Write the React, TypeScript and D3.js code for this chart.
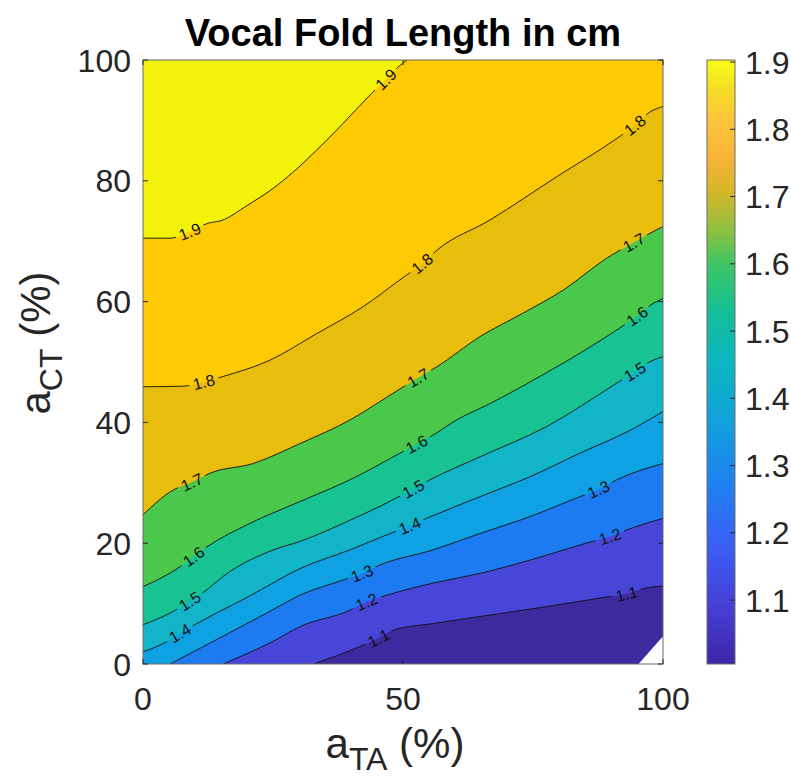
import React, { useEffect, useRef } from 'react';
import * as d3 from 'd3';

type Pt = [number, number];

const levels = [1.0, 1.1, 1.2, 1.3, 1.4, 1.5, 1.6, 1.7, 1.8, 1.9];

// fill of the band that starts at each level
const bandColors = ['#3d2a9e', '#4846d8', '#1d7bf2', '#0ea2e2', '#12b5c7', '#17c393', '#4ac84b', '#e8bd0c', '#fdca04', '#f3f20a'];

// contour lines as [aTA, aCT] points
const line10: Pt[] = [[95.3, 0], [100, 4.6]];
const line11: Pt[] = [[32.8, 0], [41.7, 2.9], [45.3, 4.3], [48.1, 5.6], [55.8, 6.7], [66.7, 8.1], [77.6, 9.5], [89.2, 11.1], [93, 11.6], [96.2, 12.5], [100, 12.9]];
const line12: Pt[] = [[15.4, 0], [25.1, 3.8], [30.2, 6.2], [39.8, 8.9], [43, 10.3], [46.9, 11.4], [55.8, 13.4], [64.8, 15.0], [74.4, 17.2], [86, 20.2], [89.8, 21.1], [93, 22.2], [100, 24.1]];
const line13: Pt[] = [[5.2, 0], [15.4, 4.6], [25, 9.0], [30.2, 11.4], [38.5, 13.9], [42.1, 15.0], [45.6, 16.4], [55.8, 18.9], [64.8, 21.6], [74.4, 24.4], [84, 27.7], [87.6, 28.9], [91.1, 30.5], [100, 33.2]];
const line14: Pt[] = [[0, 2.0], [5.2, 4.0], [7.1, 5.1], [11, 7.0], [20.6, 11.3], [30.2, 15.8], [39.8, 18.9], [47.5, 21.6], [51.3, 22.9], [54.5, 24.1], [64.8, 27.7], [74.4, 31.0], [84, 34.9], [93.7, 38.7], [100, 41.8]];
const line15: Pt[] = [[0, 6.5], [5.8, 8.7], [9.0, 10.4], [12.3, 12.3], [15.4, 14.5], [25.1, 18.9], [30.2, 20.3], [39.8, 23.8], [48.1, 27.2], [52, 29.0], [55.2, 30.5], [64.8, 34.3], [77.6, 39.3], [91.1, 46.5], [94.6, 48.4], [98.1, 50.3], [100, 50.9]];
const line16: Pt[] = [[0, 12.8], [7.1, 16.1], [9.7, 17.8], [12.3, 19.4], [20.6, 23.3], [30.2, 26.9], [39.8, 30.5], [49.4, 34.9], [52.6, 36.4], [55.8, 37.9], [60.3, 40.4], [66.7, 43.1], [76.3, 47.6], [86, 52.5], [91.1, 55.3], [95, 57.6], [98.1, 59.7], [100, 60.5]];
const line17: Pt[] = [[0, 24.7], [5.8, 28.8], [9.4, 30.1], [12.9, 31.6], [21.2, 33.2], [30.2, 36.5], [39.8, 40.4], [47.5, 44.5], [52.9, 47.4], [56.5, 49.2], [64.8, 54.2], [73.1, 58.1], [80.8, 61.9], [89.2, 67.2], [94.4, 69.8], [98.8, 71.9], [100, 72.4]];
const line18: Pt[] = [[0, 45.9], [7.8, 46.0], [11.7, 46.7], [15.4, 47.6], [24.4, 50.3], [33.4, 54.7], [42.4, 59.2], [49.4, 63.6], [53.7, 66.3], [56.5, 68.5], [66.7, 73.5], [79.6, 80.7], [91.1, 87.0], [94.6, 89.2], [97.5, 91.4], [100, 92.3]];
const line19: Pt[] = [[0, 70.5], [5.2, 70.5], [9.0, 71.6], [12.6, 73.0], [15, 73.4], [20, 75.9], [25.1, 78.8], [30, 82.3], [33.4, 85.1], [36, 87.3], [40, 90.9], [44, 94.5], [46.7, 96.8], [49, 98.8], [50.8, 100]];
const contourLines = [line10, line11, line12, line13, line14, line15, line16, line17, line18, line19];

// inline labels: [level, aTA where the label sits]
const labelSpots: Pt[] = [
  [1.9, 9.0], [1.9, 46.7],
  [1.8, 11.7], [1.8, 53.7], [1.8, 94.6],
  [1.7, 9.4], [1.7, 52.9], [1.7, 94.4],
  [1.6, 9.7], [1.6, 52.6], [1.6, 95.0],
  [1.5, 9.0], [1.5, 52.0], [1.5, 94.6],
  [1.4, 7.1], [1.4, 51.3],
  [1.3, 42.1], [1.3, 87.6],
  [1.2, 43.0], [1.2, 89.8],
  [1.1, 45.3], [1.1, 93.0],
];

const xTicks = [0, 50, 100];
const yTicks = [0, 20, 40, 60, 80, 100];
const cbTicks = [1.1, 1.2, 1.3, 1.4, 1.5, 1.6, 1.7, 1.8, 1.9];
const colorLimits: Pt = [1.005, 1.903];

// parula-like colormap stops for the colorbar
const parulaStops: [number, string][] = [
  [0.0, '#3e26a8'], [0.1, '#4640d8'], [0.2, '#3a60f6'], [0.3, '#1e82f0'],
  [0.4, '#12a0dc'], [0.5, '#0cb6c0'], [0.58, '#12be9a'], [0.66, '#3cc664'],
  [0.72, '#90c040'], [0.78, '#d4b628'], [0.84, '#f8b436'], [0.9, '#fcc43a'],
  [0.95, '#f4dc26'], [1.0, '#f9fb15'],
];

const font = '"Liberation Sans", Arial, Helvetica, sans-serif';
const ink = '#262626';

// point on a polyline at a given x
const yAt = (pts: Pt[], xv: number) => {
  for (let i = 0; i < pts.length - 1; i++) {
    const [x0, y0] = pts[i];
    const [x1, y1] = pts[i + 1];
    if (xv >= x0 && xv <= x1) return y0 + ((xv - x0) / (x1 - x0)) * (y1 - y0);
  }
  return pts[pts.length - 1][1];
};

export default function App() {
  const ref = useRef<SVGSVGElement>(null);

  useEffect(() => {
    const svg = d3.select(ref.current);
    svg.selectAll('*').remove();

    const plot = { left: 143, right: 663, top: 60, bottom: 664 };
    const x = d3.scaleLinear().domain([0, 100]).range([plot.left, plot.right]);
    const y = d3.scaleLinear().domain([0, 100]).range([plot.bottom, plot.top]);

    const defs = svg.append('defs');
    defs.append('clipPath').attr('id', 'plotClip')
      .append('rect')
      .attr('x', plot.left).attr('y', plot.top)
      .attr('width', plot.right - plot.left).attr('height', plot.bottom - plot.top);

    const lineGen = d3.line<Pt>().x(d => x(d[0])).y(d => y(d[1])).curve(d3.curveMonotoneX);

    // filled bands: region above each line painted in increasing order
    const fills = svg.append('g').attr('clip-path', 'url(#plotClip)');
    fills.append('rect')
      .attr('x', plot.left).attr('y', plot.top)
      .attr('width', plot.right - plot.left).attr('height', plot.bottom - plot.top)
      .attr('fill', 'white');
    contourLines.forEach((pts, i) => {
      const first = pts[0];
      const last = pts[pts.length - 1];
      const corners: Pt[] = [[last[0], 110], [-10, 110], [-10, first[1]]];
      const d = lineGen(pts) + corners.map(p => `L${x(p[0])},${y(p[1])}`).join('') + 'Z';
      fills.append('path').attr('d', d).attr('fill', bandColors[i]);
    });

    // label geometry
    const labels = labelSpots.map(([lev, xv]) => {
      const pts = contourLines[levels.findIndex(l => Math.abs(l - lev) < 1e-6)];
      const yv = yAt(pts, xv);
      const xa = Math.max(xv - 2.5, pts[0][0]);
      const xb = Math.min(xv + 2.5, pts[pts.length - 1][0]);
      const ang = Math.atan2(y(yAt(pts, xb)) - y(yAt(pts, xa)), x(xb) - x(xa)) * 180 / Math.PI;
      return { lev, px: x(xv), py: y(yv), ang };
    });

    // gaps in the lines under the labels
    const mask = defs.append('mask').attr('id', 'lineMask');
    mask.append('rect').attr('x', 0).attr('y', 0).attr('width', 791).attr('height', 778).attr('fill', 'white');
    labels.forEach(l => {
      mask.append('rect')
        .attr('x', -15).attr('y', -8).attr('width', 30).attr('height', 16)
        .attr('transform', `translate(${l.px},${l.py}) rotate(${l.ang})`)
        .attr('fill', 'black');
    });

    const linesG = svg.append('g').attr('clip-path', 'url(#plotClip)')
      .append('g').attr('mask', 'url(#lineMask)');
    contourLines.slice(1).forEach(pts => {
      linesG.append('path').attr('d', lineGen(pts))
        .attr('fill', 'none').attr('stroke', '#111').attr('stroke-width', 0.9);
    });

    svg.append('g').selectAll('text').data(labels).join('text')
      .attr('transform', d => `translate(${d.px},${d.py}) rotate(${d.ang})`)
      .attr('text-anchor', 'middle').attr('dy', '0.36em')
      .style('font-family', font).style('font-size', '16px').attr('fill', '#111')
      .text(d => d.lev.toFixed(1));

    // axes box and ticks
    const axes = svg.append('g');
    axes.append('rect')
      .attr('x', plot.left).attr('y', plot.top)
      .attr('width', plot.right - plot.left).attr('height', plot.bottom - plot.top)
      .attr('fill', 'none').attr('stroke', '#6a6a6a').attr('stroke-width', 1);
    const tickLen = 5;
    yTicks.forEach(t => {
      axes.append('line').attr('x1', plot.left).attr('x2', plot.left + tickLen).attr('y1', y(t)).attr('y2', y(t)).attr('stroke', ink);
      axes.append('line').attr('x1', plot.right).attr('x2', plot.right - tickLen).attr('y1', y(t)).attr('y2', y(t)).attr('stroke', ink);
    });
    xTicks.forEach(t => {
      axes.append('line').attr('x1', x(t)).attr('x2', x(t)).attr('y1', plot.bottom).attr('y2', plot.bottom - tickLen).attr('stroke', ink);
      axes.append('line').attr('x1', x(t)).attr('x2', x(t)).attr('y1', plot.top).attr('y2', plot.top + tickLen).attr('stroke', ink);
    });
    axes.selectAll('text.yt').data(yTicks).join('text').attr('class', 'yt')
      .attr('x', plot.left - 12).attr('y', d => y(d)).attr('dy', '0.36em')
      .attr('text-anchor', 'end').style('font-family', font).style('font-size', '32px').attr('fill', ink)
      .text(d => d);
    axes.selectAll('text.xt').data(xTicks).join('text').attr('class', 'xt')
      .attr('x', d => x(d)).attr('y', plot.bottom + 46)
      .attr('text-anchor', 'middle').style('font-family', font).style('font-size', '32px').attr('fill', ink)
      .text(d => d);

    // title
    svg.append('text').attr('x', (plot.left + plot.right) / 2).attr('y', 46)
      .attr('text-anchor', 'middle').style('font-family', font).style('font-size', '38px')
      .style('font-weight', 'bold').attr('fill', '#000')
      .text('Vocal Fold Length in cm');

    // axis labels with subscripts
    const xl = svg.append('text').attr('x', 395).attr('y', 758).attr('text-anchor', 'middle')
      .style('font-family', font).style('font-size', '42px').attr('fill', ink);
    xl.append('tspan').text('a');
    xl.append('tspan').attr('dy', 12).style('font-size', '32px').text('TA');
    xl.append('tspan').attr('dy', -12).text(' (%)');

    const yl = svg.append('text').attr('transform', `translate(50,343) rotate(-90)`).attr('text-anchor', 'middle')
      .style('font-family', font).style('font-size', '42px').attr('fill', ink);
    yl.append('tspan').text('a');
    yl.append('tspan').attr('dy', 12).style('font-size', '32px').text('CT');
    yl.append('tspan').attr('dy', -12).text(' (%)');

    // colorbar
    const cb = { left: 707, right: 735 };
    const cy = d3.scaleLinear().domain(colorLimits).range([plot.bottom, plot.top]);
    const grad = defs.append('linearGradient').attr('id', 'parula')
      .attr('x1', 0).attr('y1', 1).attr('x2', 0).attr('y2', 0);
    parulaStops.forEach(([t, c]) => grad.append('stop').attr('offset', t).attr('stop-color', c));
    svg.append('rect')
      .attr('x', cb.left).attr('y', plot.top).attr('width', cb.right - cb.left).attr('height', plot.bottom - plot.top)
      .attr('fill', 'url(#parula)').attr('stroke', '#6a6a6a').attr('stroke-width', 1);
    cbTicks.forEach(t => {
      svg.append('line').attr('x1', cb.right).attr('x2', cb.right - 5).attr('y1', cy(t)).attr('y2', cy(t)).attr('stroke', ink);
    });
    svg.append('g').selectAll('text').data(cbTicks).join('text')
      .attr('x', cb.right + 10).attr('y', d => cy(d)).attr('dy', '0.36em')
      .style('font-family', font).style('font-size', '32px').attr('fill', ink)
      .text(d => d.toFixed(1));
  }, []);

  return (
    <svg ref={ref} width={791} height={778}
      style={{ position: 'absolute', left: 0, top: 0, background: 'white' }} />
  );
}
